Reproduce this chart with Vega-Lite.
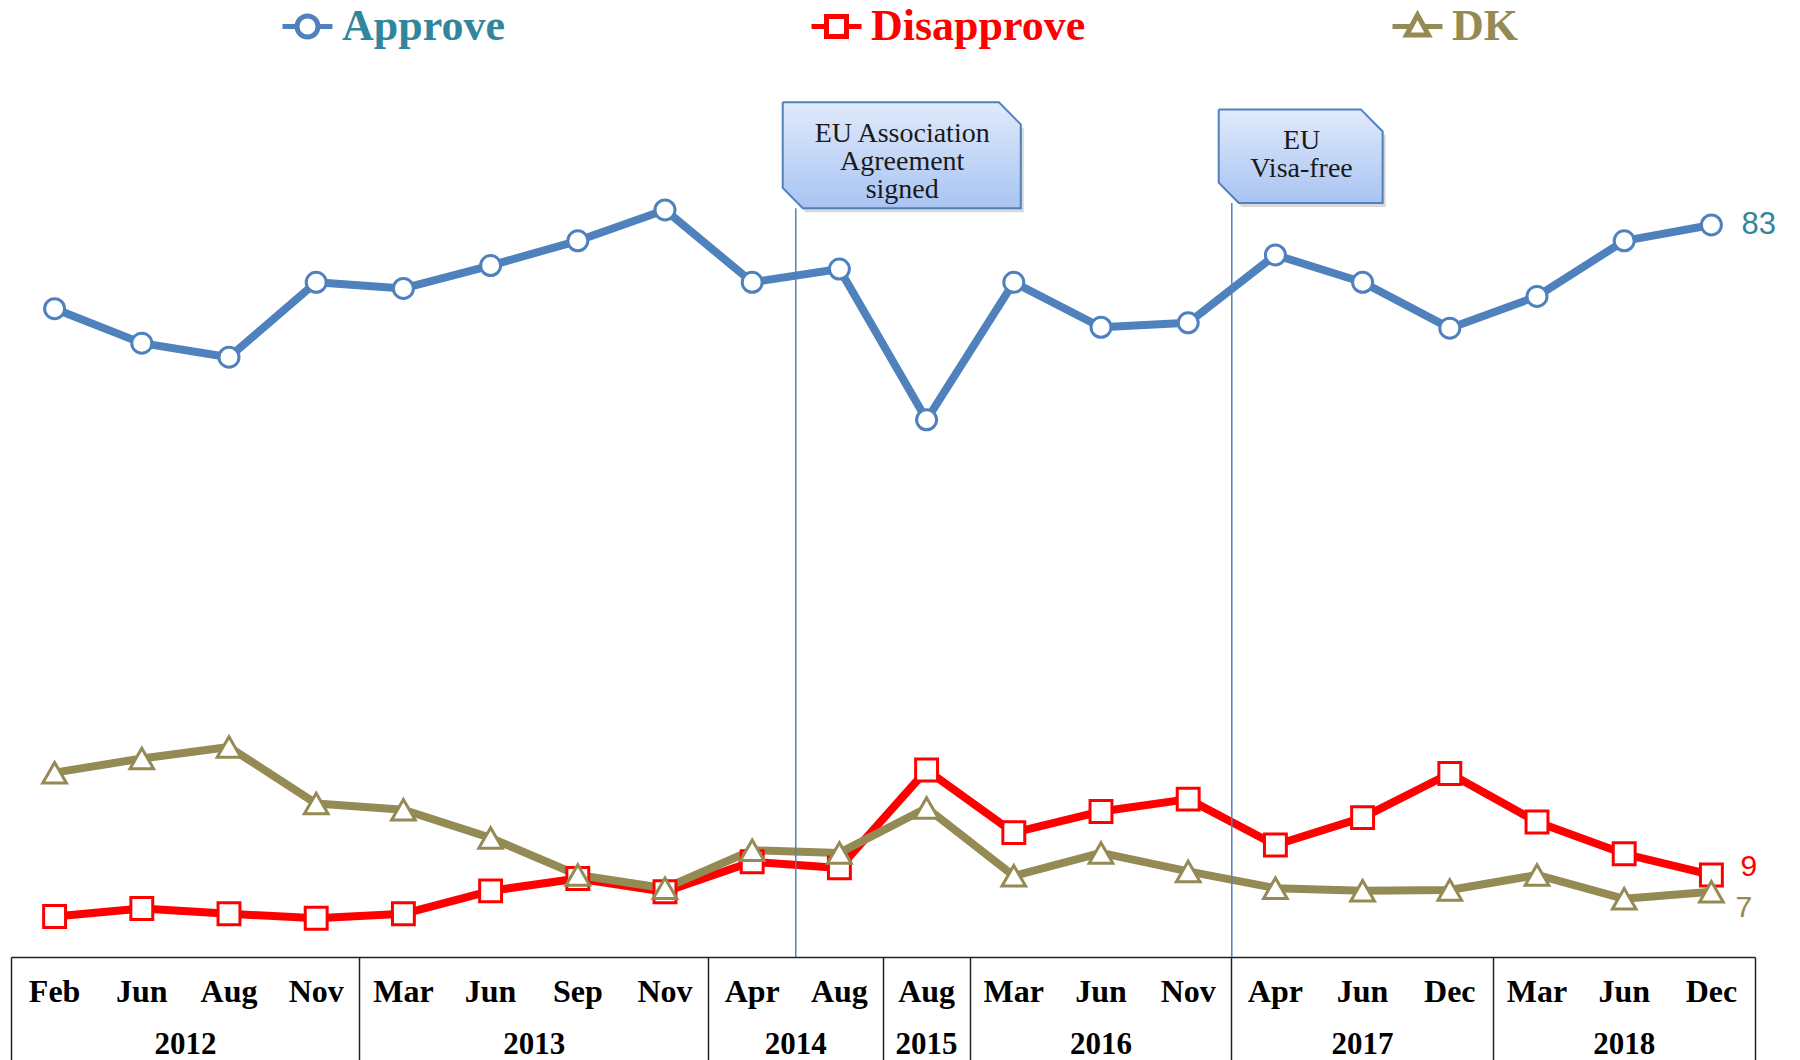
{
  "$schema": "https://vega.github.io/schema/vega-lite/v6.json",
  "width": 1744,
  "height": 882,
  "autosize": {"type": "none"},
  "padding": {"left": 11, "top": 75, "right": 45, "bottom": 103},
  "background": "white",
  "config": {"view": {"stroke": null}},
  "datasets": {
    "poll": [
      {"wave": "Feb 2012", "series": "Approve", "value": 73.5},
      {"wave": "Jun 2012", "series": "Approve", "value": 69.6},
      {"wave": "Aug 2012", "series": "Approve", "value": 68.0},
      {"wave": "Nov 2012", "series": "Approve", "value": 76.5},
      {"wave": "Mar 2013", "series": "Approve", "value": 75.8},
      {"wave": "Jun 2013", "series": "Approve", "value": 78.4},
      {"wave": "Sep 2013", "series": "Approve", "value": 81.2},
      {"wave": "Nov 2013", "series": "Approve", "value": 84.7},
      {"wave": "Apr 2014", "series": "Approve", "value": 76.5},
      {"wave": "Aug 2014", "series": "Approve", "value": 78.0},
      {"wave": "Aug 2015", "series": "Approve", "value": 60.9},
      {"wave": "Mar 2016", "series": "Approve", "value": 76.5},
      {"wave": "Jun 2016", "series": "Approve", "value": 71.4},
      {"wave": "Nov 2016", "series": "Approve", "value": 71.9},
      {"wave": "Apr 2017", "series": "Approve", "value": 79.6},
      {"wave": "Jun 2017", "series": "Approve", "value": 76.5},
      {"wave": "Dec 2017", "series": "Approve", "value": 71.3},
      {"wave": "Mar 2018", "series": "Approve", "value": 74.9},
      {"wave": "Jun 2018", "series": "Approve", "value": 81.2},
      {"wave": "Dec 2018", "series": "Approve", "value": 83.0},
      {"wave": "Feb 2012", "series": "Disapprove", "value": 4.6},
      {"wave": "Jun 2012", "series": "Disapprove", "value": 5.5},
      {"wave": "Aug 2012", "series": "Disapprove", "value": 4.9},
      {"wave": "Nov 2012", "series": "Disapprove", "value": 4.4},
      {"wave": "Mar 2013", "series": "Disapprove", "value": 4.9},
      {"wave": "Jun 2013", "series": "Disapprove", "value": 7.5},
      {"wave": "Sep 2013", "series": "Disapprove", "value": 8.9},
      {"wave": "Nov 2013", "series": "Disapprove", "value": 7.4},
      {"wave": "Apr 2014", "series": "Disapprove", "value": 10.8},
      {"wave": "Aug 2014", "series": "Disapprove", "value": 10.1},
      {"wave": "Aug 2015", "series": "Disapprove", "value": 21.2},
      {"wave": "Mar 2016", "series": "Disapprove", "value": 14.1},
      {"wave": "Jun 2016", "series": "Disapprove", "value": 16.5},
      {"wave": "Nov 2016", "series": "Disapprove", "value": 17.9},
      {"wave": "Apr 2017", "series": "Disapprove", "value": 12.7},
      {"wave": "Jun 2017", "series": "Disapprove", "value": 15.8},
      {"wave": "Dec 2017", "series": "Disapprove", "value": 20.8},
      {"wave": "Mar 2018", "series": "Disapprove", "value": 15.3},
      {"wave": "Jun 2018", "series": "Disapprove", "value": 11.7},
      {"wave": "Dec 2018", "series": "Disapprove", "value": 9.3},
      {"wave": "Feb 2012", "series": "DK", "value": 20.9},
      {"wave": "Jun 2012", "series": "DK", "value": 22.5},
      {"wave": "Aug 2012", "series": "DK", "value": 23.8},
      {"wave": "Nov 2012", "series": "DK", "value": 17.4},
      {"wave": "Mar 2013", "series": "DK", "value": 16.7},
      {"wave": "Jun 2013", "series": "DK", "value": 13.5},
      {"wave": "Sep 2013", "series": "DK", "value": 9.3},
      {"wave": "Nov 2013", "series": "DK", "value": 7.8},
      {"wave": "Apr 2014", "series": "DK", "value": 12.1},
      {"wave": "Aug 2014", "series": "DK", "value": 11.8},
      {"wave": "Aug 2015", "series": "DK", "value": 16.9},
      {"wave": "Mar 2016", "series": "DK", "value": 9.2},
      {"wave": "Jun 2016", "series": "DK", "value": 11.8},
      {"wave": "Nov 2016", "series": "DK", "value": 9.7},
      {"wave": "Apr 2017", "series": "DK", "value": 7.8},
      {"wave": "Jun 2017", "series": "DK", "value": 7.5},
      {"wave": "Dec 2017", "series": "DK", "value": 7.6},
      {"wave": "Mar 2018", "series": "DK", "value": 9.3},
      {"wave": "Jun 2018", "series": "DK", "value": 6.6},
      {"wave": "Dec 2018", "series": "DK", "value": 7.4}
    ],
    "events": [
      {"event": "EU Association Agreement signed", "lines": ["EU Association", "Agreement", "signed"], "xm": 10.22, "xl": 9, "ybot": 84.9, "ytext": 93.3},
      {"event": "EU Visa-free", "lines": ["EU", "Visa-free"], "xm": 14.8, "xl": 14, "ybot": 85.5, "ytext": 92.5}
    ],
    "callouts": [
      {"event": "EU Association Agreement signed", "k": 1, "vx": 8.85, "vy": 96.9},
      {"event": "EU Association Agreement signed", "k": 2, "vx": 11.33, "vy": 96.9},
      {"event": "EU Association Agreement signed", "k": 3, "vx": 11.58, "vy": 94.4},
      {"event": "EU Association Agreement signed", "k": 4, "vx": 11.58, "vy": 84.9},
      {"event": "EU Association Agreement signed", "k": 5, "vx": 9.08, "vy": 84.9},
      {"event": "EU Association Agreement signed", "k": 6, "vx": 8.85, "vy": 87.2},
      {"event": "EU Association Agreement signed", "k": 7, "vx": 8.85, "vy": 96.9},
      {"event": "EU Visa-free", "k": 1, "vx": 13.85, "vy": 96.1},
      {"event": "EU Visa-free", "k": 2, "vx": 15.48, "vy": 96.1},
      {"event": "EU Visa-free", "k": 3, "vx": 15.73, "vy": 93.6},
      {"event": "EU Visa-free", "k": 4, "vx": 15.73, "vy": 85.5},
      {"event": "EU Visa-free", "k": 5, "vx": 14.08, "vy": 85.5},
      {"event": "EU Visa-free", "k": 6, "vx": 13.85, "vy": 87.8},
      {"event": "EU Visa-free", "k": 7, "vx": 13.85, "vy": 96.1}
    ]
  },
  "layer": [
    {
      "data": {"name": "poll"},
      "layer": [
        {
          "mark": {"type": "line", "strokeWidth": 8, "strokeJoin": "round"},
          "encoding": {
            "x": {
              "field": "wave", "type": "ordinal", "sort": null,
              "scale": {"type": "band", "paddingInner": 0, "paddingOuter": 0,
                "domain": ["Feb 2012","Jun 2012","Aug 2012","Nov 2012","Mar 2013","Jun 2013","Sep 2013","Nov 2013","Apr 2014","Aug 2014","Aug 2015","Mar 2016","Jun 2016","Nov 2016","Apr 2017","Jun 2017","Dec 2017","Mar 2018","Jun 2018","Dec 2018"]},
              "axis": {"orient": "bottom", "title": null, "domain": false, "ticks": false, "tickSize": 0, "grid": false,
                "labelExpr": "split(datum.value, ' ')[0]", "labelAngle": 0, "labelFont": "Liberation Serif", "labelFontWeight": "bold",
                "labelFontSize": 32, "labelColor": "#000000", "labelPadding": 44, "labelBaseline": "alphabetic", "labelOverlap": false}
            },
            "y": {"field": "value", "type": "quantitative", "scale": {"domain": [0, 100], "nice": false}, "axis": null},
            "color": {
              "field": "series", "type": "nominal",
              "scale": {"domain": ["Approve", "Disapprove", "DK"], "range": ["#4F81BD", "#FF0000", "#948A54"]},
              "legend": {
                "orient": "none", "legendX": 269, "legendY": -76, "direction": "horizontal", "title": null,
                "padding": 0, "gridAlign": "none", "columnPadding": 296,
                "symbolSize": 2500, "symbolStrokeWidth": 5, "symbolFillColor": "transparent",
                "symbolType": {"expr": "datum.label == 'Approve' ? 'M-1,0H-0.42M0.42,0H1M0.42,0A0.42,0.42,0,1,1,-0.42,0A0.42,0.42,0,1,1,0.42,0Z' : datum.label == 'Disapprove' ? 'M-1,0H-0.4M0.4,0H1M-0.4,-0.4H0.4V0.4H-0.4Z' : 'M-1,0H-0.25M0.25,0H1M0,-0.46L0.44,0.34H-0.44Z'"},
                "labelColor": {"expr": "datum.label == 'Approve' ? '#31859C' : datum.label == 'Disapprove' ? '#FF0000' : '#948A54'"},
                "labelFont": "Liberation Serif", "labelFontWeight": "bold", "labelFontSize": 44, "labelLimit": 400, "labelOffset": 7
              }
            }
          }
        },
        {
          "transform": [{"filter": "datum.series == 'Approve'"}],
          "mark": {"type": "point", "shape": "circle", "size": 400, "filled": true, "fill": "white", "stroke": "#4F81BD", "strokeWidth": 3, "opacity": 1},
          "encoding": {
            "x": {"field": "wave", "type": "ordinal", "sort": null, "axis": null},
            "y": {"field": "value", "type": "quantitative", "scale": {"domain": [0, 100], "nice": false}, "axis": null}
          }
        },
        {
          "transform": [{"filter": "datum.series == 'Disapprove'"}],
          "mark": {"type": "point", "shape": "square", "size": 480, "filled": true, "fill": "white", "stroke": "#FF0000", "strokeWidth": 3, "opacity": 1},
          "encoding": {
            "x": {"field": "wave", "type": "ordinal", "sort": null, "axis": null},
            "y": {"field": "value", "type": "quantitative", "scale": {"domain": [0, 100], "nice": false}, "axis": null}
          }
        },
        {
          "transform": [{"filter": "datum.series == 'DK'"}],
          "mark": {"type": "point", "shape": "triangle-up", "size": 560, "filled": true, "fill": "white", "stroke": "#948A54", "strokeWidth": 3, "opacity": 1},
          "encoding": {
            "x": {"field": "wave", "type": "ordinal", "sort": null, "axis": null},
            "y": {"field": "value", "type": "quantitative", "scale": {"domain": [0, 100], "nice": false}, "axis": null}
          }
        },
        {
          "transform": [{"filter": "datum.wave == 'Dec 2018' && datum.series == 'Approve'"}],
          "mark": {"type": "text", "align": "left", "baseline": "middle", "dx": 30, "dy": 0, "font": "Liberation Sans", "fontSize": 31, "color": "#31859C"},
          "encoding": {
            "x": {"field": "wave", "type": "ordinal", "sort": null, "axis": null},
            "y": {"field": "value", "type": "quantitative", "scale": {"domain": [0, 100], "nice": false}, "axis": null},
            "text": {"field": "value", "type": "quantitative", "format": ".0f"}
          }
        },
        {
          "transform": [{"filter": "datum.wave == 'Dec 2018' && datum.series == 'Disapprove'"}],
          "mark": {"type": "text", "align": "left", "baseline": "middle", "dx": 29, "dy": -8, "font": "Liberation Sans", "fontSize": 30, "color": "#FF0000"},
          "encoding": {
            "x": {"field": "wave", "type": "ordinal", "sort": null, "axis": null},
            "y": {"field": "value", "type": "quantitative", "scale": {"domain": [0, 100], "nice": false}, "axis": null},
            "text": {"field": "value", "type": "quantitative", "format": ".0f"}
          }
        },
        {
          "transform": [{"filter": "datum.wave == 'Dec 2018' && datum.series == 'DK'"}],
          "mark": {"type": "text", "align": "left", "baseline": "middle", "dx": 24, "dy": 16, "font": "Liberation Sans", "fontSize": 30, "color": "#948A54"},
          "encoding": {
            "x": {"field": "wave", "type": "ordinal", "sort": null, "axis": null},
            "y": {"field": "value", "type": "quantitative", "scale": {"domain": [0, 100], "nice": false}, "axis": null},
            "text": {"field": "value", "type": "quantitative", "format": ".0f"}
          }
        },
        {
          "mark": {"type": "point", "opacity": 0},
          "encoding": {
            "x": {"field": "wave", "type": "ordinal", "sort": null,
              "axis": {"orient": "bottom", "title": null, "bandPosition": 0, "values": ["Feb 2012", "Mar 2013", "Apr 2014", "Aug 2015", "Mar 2016", "Apr 2017", "Mar 2018"],
                "labels": false, "ticks": true, "tickSize": 110, "tickColor": "#222222", "tickWidth": 1.5,
                "domain": true, "domainColor": "#222222", "domainWidth": 1.5, "grid": false}}
          }
        },
        {
          "mark": {"type": "point", "opacity": 0},
          "encoding": {
            "x": {"field": "wave", "type": "ordinal", "sort": null,
              "axis": {"orient": "bottom", "title": null, "bandPosition": 1, "values": ["Dec 2018"],
                "labels": false, "ticks": true, "tickSize": 110, "tickColor": "#222222", "tickWidth": 1.5,
                "domain": false, "grid": false}}
          }
        },
        {
          "mark": {"type": "point", "opacity": 0},
          "encoding": {
            "x": {"field": "wave", "type": "ordinal", "sort": null,
              "axis": {"orient": "bottom", "title": null, "values": ["Aug 2012", "Sep 2013", "Aug 2014"], "labelOffset": -43.6,
                "labelExpr": "split(datum.value, ' ')[1]", "labelAngle": 0, "labelFont": "Liberation Serif", "labelFontWeight": "bold",
                "labelFontSize": 31, "labelColor": "#000000", "labelPadding": 96, "labelBaseline": "alphabetic", "labelOverlap": false,
                "ticks": false, "tickSize": 0, "domain": false, "grid": false}}
          }
        },
        {
          "mark": {"type": "point", "opacity": 0},
          "encoding": {
            "x": {"field": "wave", "type": "ordinal", "sort": null,
              "axis": {"orient": "bottom", "title": null, "values": ["Aug 2015", "Jun 2016", "Jun 2017", "Jun 2018"],
                "labelExpr": "split(datum.value, ' ')[1]", "labelAngle": 0, "labelFont": "Liberation Serif", "labelFontWeight": "bold",
                "labelFontSize": 31, "labelColor": "#000000", "labelPadding": 96, "labelBaseline": "alphabetic", "labelOverlap": false,
                "ticks": false, "tickSize": 0, "domain": false, "grid": false}}
          }
        }
      ],
      "resolve": {"axis": {"x": "independent"}}
    },
    {
      "layer": [
        {
          "data": {"name": "events"},
          "mark": {"type": "rule", "color": "#4F81BD", "strokeWidth": 1.5},
          "encoding": {
            "x": {"field": "xl", "type": "quantitative", "scale": {"domain": [0, 20], "nice": false, "zero": false}, "axis": null},
            "y": {"field": "ybot", "type": "quantitative", "scale": {"domain": [0, 100], "nice": false}, "axis": null},
            "y2": {"datum": 0}
          }
        },
        {
          "data": {"name": "callouts"},
          "mark": {"type": "line", "fill": "#7F7F7F", "stroke": null, "opacity": 0.3, "xOffset": 3, "yOffset": 4},
          "encoding": {
            "x": {"field": "vx", "type": "quantitative", "axis": null},
            "y": {"field": "vy", "type": "quantitative", "scale": {"domain": [0, 100], "nice": false}, "axis": null},
            "order": {"field": "k", "type": "quantitative"},
            "detail": {"field": "event", "type": "nominal"}
          }
        },
        {
          "data": {"name": "callouts"},
          "mark": {"type": "line", "stroke": "#4F81BD", "strokeWidth": 2, "strokeJoin": "miter",
            "fill": {"gradient": "linear", "x1": 0, "y1": 0, "x2": 0, "y2": 1, "stops": [{"offset": 0, "color": "#E1EAFB"}, {"offset": 1, "color": "#A8C4F2"}]}},
          "encoding": {
            "x": {"field": "vx", "type": "quantitative", "axis": null},
            "y": {"field": "vy", "type": "quantitative", "scale": {"domain": [0, 100], "nice": false}, "axis": null},
            "order": {"field": "k", "type": "quantitative"},
            "detail": {"field": "event", "type": "nominal"}
          }
        },
        {
          "data": {"name": "events"},
          "mark": {"type": "text", "font": "Liberation Serif", "fontSize": 28, "lineHeight": 28, "align": "center", "baseline": "middle", "color": "#1A1A1A"},
          "encoding": {
            "x": {"field": "xm", "type": "quantitative", "axis": null},
            "y": {"field": "ytext", "type": "quantitative", "scale": {"domain": [0, 100], "nice": false}, "axis": null},
            "text": {"field": "lines"}
          }
        }
      ]
    }
  ],
  "resolve": {"scale": {"x": "independent"}}
}
